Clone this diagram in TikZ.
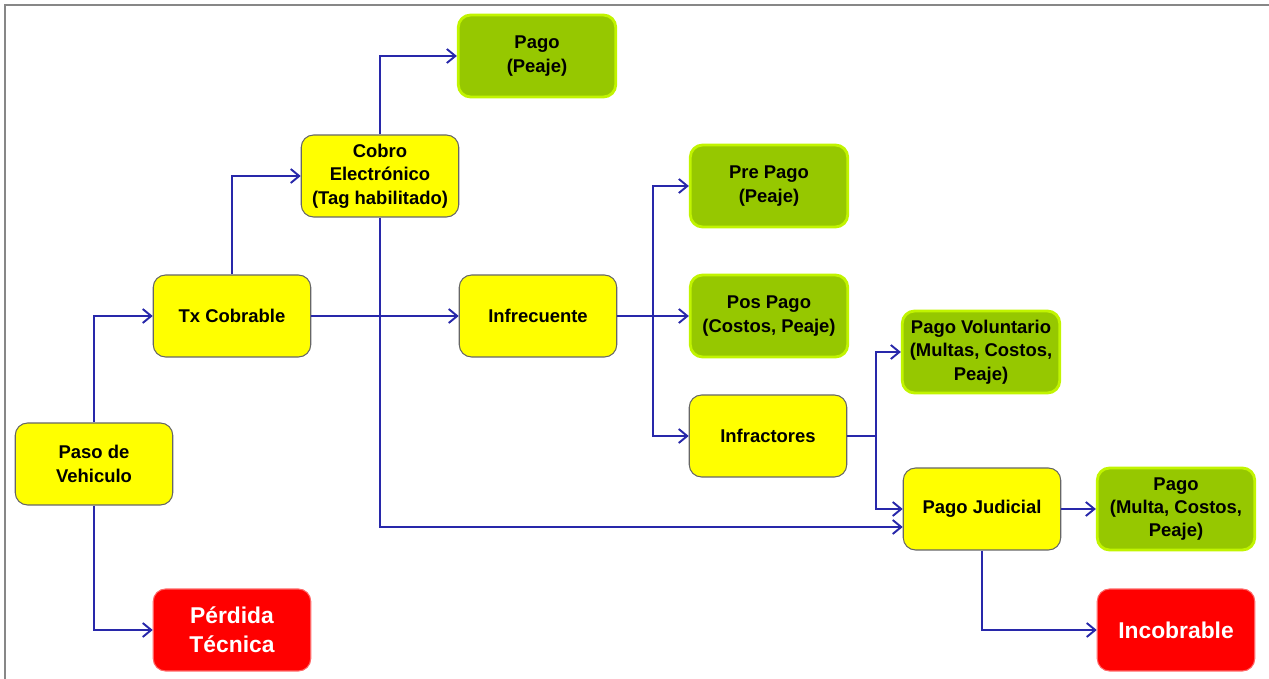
\documentclass[tikz,border=0pt]{standalone}
\usepackage{fontspec}
\setmainfont{Liberation Sans}
\usetikzlibrary{arrows.meta}
\definecolor{amarillo}{RGB}{255,255,0}
\definecolor{verde}{RGB}{150,200,0}
\definecolor{verdeclaro}{RGB}{204,255,0}
\definecolor{rojo}{RGB}{255,0,0}
\definecolor{azul}{RGB}{40,40,170}
\definecolor{marco}{RGB}{135,135,135}
\begin{document}
\begin{tikzpicture}[x=0.02cm, y=-0.02cm]
  \tikzstyle{caja}=[rounded corners=7pt, minimum width=3.15cm, minimum height=1.64cm, align=center, font=\bfseries\fontsize{10.5}{13.3}\selectfont]
  \tikzstyle{paso}=[caja, fill=amarillo, draw=black!60, line width=0.6pt]
  \tikzstyle{pago}=[caja, fill=verde, draw=verdeclaro!80!verde, line width=1.6pt]
  \tikzstyle{perdida}=[caja, fill=rojo, draw=rojo!60, line width=0.6pt, text=white, font=\bfseries\fontsize{13}{16.4}\selectfont]
  \tikzstyle{flecha}=[draw=azul, line width=1.1pt, -{Straight Barb[length=1.7mm, width=2.8mm]}]
  \tikzstyle{linea}=[draw=azul, line width=1.1pt]

  \useasboundingbox (0,0) rectangle (1269,679);
  % marco
  \draw[marco, line width=1.6pt] (5,679) -- (5,5) -- (1269,5);

  % cajas
  \node[paso] (vehiculo) at (94,464) {Paso de\\Vehiculo};
  \node[paso] (tx) at (232,316) {Tx Cobrable};
  \node[paso] (cobro) at (380,176) {Cobro\\Electrónico\\(Tag habilitado)};
  \node[pago] (peaje) at (537,56) {Pago\\(Peaje)};
  \node[paso] (infrecuente) at (538,316) {Infrecuente};
  \node[pago] (prepago) at (769,186) {Pre Pago\\(Peaje)};
  \node[pago] (pospago) at (769,316) {Pos Pago\\(Costos, Peaje)};
  \node[paso] (infractores) at (768,436) {Infractores};
  \node[pago] (voluntario) at (981,352) {Pago Voluntario\\(Multas, Costos,\\Peaje)};
  \node[paso] (judicial) at (982,509) {Pago Judicial};
  \node[pago] (multa) at (1176,509) {Pago\\(Multa, Costos,\\Peaje)};
  \node[perdida] (incobrable) at (1176,630) {Incobrable};
  \node[perdida] (tecnica) at (232,630) {Pérdida\\Técnica};

  % puntos de reparto
  \coordinate (rep1) at (653,316);
  \coordinate (rep2) at (876,436);

  % conexiones
  \draw[flecha] (vehiculo.north) |- (tx.west);
  \draw[flecha] (vehiculo.south) |- (tecnica.west);
  \draw[flecha] (tx.north) |- (cobro.west);
  \draw[flecha] (tx.east) -- (infrecuente.west);
  \draw[flecha] (cobro.north) |- (peaje.west);
  \draw[flecha] (cobro.south) |- ([yshift=-0.36cm]judicial.west);
  \draw[linea] (infrecuente.east) -- (rep1);
  \draw[flecha] (rep1) |- (prepago.west);
  \draw[flecha] (rep1) -- (pospago.west);
  \draw[flecha] (rep1) |- (infractores.west);
  \draw[linea] (infractores.east) -- (rep2);
  \draw[flecha] (rep2) |- (voluntario.west);
  \draw[flecha] (rep2) |- (judicial.west);
  \draw[flecha] (judicial.east) -- (multa.west);
  \draw[flecha] (judicial.south) |- (incobrable.west);
\end{tikzpicture}
\end{document}
